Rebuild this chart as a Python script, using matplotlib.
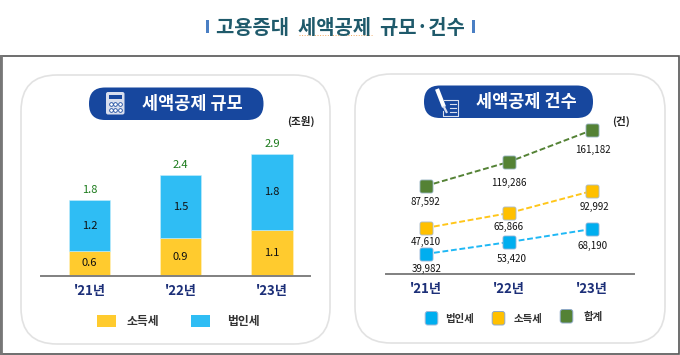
import matplotlib
matplotlib.use("Agg")
import matplotlib.pyplot as plt
from matplotlib.patches import FancyBboxPatch, Rectangle
from matplotlib.path import Path

plt.rcParams['font.family'] = ['Noto Sans CJK KR', 'DejaVu Sans']

years = ["'21년", "'22년", "'23년"]
income_tax = [0.6, 0.9, 1.1]
corp_tax = [1.2, 1.5, 1.8]
total_tax = [1.8, 2.4, 2.9]
corp_count = [39982, 53420, 68190]
income_count = [47610, 65866, 92992]
total_count = [87592, 119286, 161182]

YELLOW = '#ffcb2e'
SKY = '#2fbdf4'
NAVY = '#17479e'
TICK = '#1c2f78'
W, H = 680, 355

fig = plt.figure(figsize=(W / 100, H / 100), dpi=100, facecolor='white')
bg = fig.add_axes([0, 0, 1, 1], zorder=0)
bg.set_xlim(0, W)
bg.set_ylim(H, 0)
bg.axis('off')


def px_axes(x0, y0, x1, y1, z=2):
    a = fig.add_axes([x0 / W, 1 - y1 / H, (x1 - x0) / W, (y1 - y0) / H], zorder=z)
    a.patch.set_alpha(0)
    return a


def rbox(x0, y0, x1, y1, r, **kw):
    bg.add_patch(FancyBboxPatch((x0 + r, y0 + r), x1 - x0 - 2 * r, y1 - y0 - 2 * r,
                                boxstyle=f'round,pad={r},rounding_size={r}', **kw))


# Title
bg.text(340, 27, '고용증대  세액공제  규모·건수', ha='center', va='center', fontsize=14.3,
        color='#1f5a6b', fontweight='bold')
for x in (207.5, 473.5):
    bg.add_patch(Rectangle((x - 1.2, 20), 2.4, 13, color='#4a7fc4', lw=0))
bg.plot([299, 372], [35, 35], color='#f0a860', lw=0.7, ls=':')

# Frame and panels
bg.add_patch(Rectangle((1, 56), 678, 298, fc='white', ec='#555555', lw=1.2))
bg.plot([1, 1], [56, 354], color='#777777', lw=2)
rbox(21, 75, 330, 344, 36, fc='white', ec='#e2e2e2', lw=1.2)
rbox(355, 74, 665, 343, 36, fc='white', ec='#e2e2e2', lw=1.2)

# Pills
rbox(89, 87.5, 263.5, 120, 16, fc=NAVY, ec='none')
rbox(424, 85.5, 593, 118, 16, fc=NAVY, ec='none')
bg.text(192.5, 104, '세액공제 규모', ha='center', va='center', fontsize=12.6, color='white', fontweight='bold')
bg.text(526, 102, '세액공제 건수', ha='center', va='center', fontsize=12.6, color='white', fontweight='bold')

# Calculator icon
rbox(106, 92, 124.5, 114.5, 2, fc='#d9dfee', ec='none')
bg.add_patch(Rectangle((109, 95), 12.5, 4, fc=NAVY, ec='none'))
for cy in (104, 109.5):
    bg.scatter([111, 115.3, 119.6], [cy] * 3, s=7, fc='white', ec=NAVY, lw=0.6, zorder=3)

# Pen and note icon
bg.plot([444, 458, 458, 443, 443], [100, 100, 116, 116, 111], color='#d9dfee', lw=0.8)
for yy in (104, 108, 112):
    bg.plot([450, 456], [yy, yy], color='#d9dfee', lw=0.8)
bg.plot([437, 444], [89, 107], color='white', lw=3.0, solid_capstyle='butt', zorder=3)
bg.plot([444, 446.5], [107, 112], color='#d9dfee', lw=1.6, zorder=3)

# Stacked bars
ax = px_axes(41, 132, 310, 276)
pos = range(len(years))
ax.bar(pos, income_tax, width=0.45, color=YELLOW, edgecolor='#fff3c4', lw=0.4)
ax.bar(pos, corp_tax, bottom=income_tax, width=0.45, color=SKY, edgecolor='#c6eefc', lw=0.4)
ax.set_xlim(-0.531, 2.416)
ax.set_ylim(0, 3.43)
ax.set_yticks([])
ax.set_xticks(list(pos), years, fontsize=9.5, color=TICK, fontweight='bold')
ax.tick_params(axis='x', length=0, pad=6)
for s in ('top', 'left', 'right'):
    ax.spines[s].set_visible(False)
ax.spines['bottom'].set_color('#808080')
ax.spines['bottom'].set_linewidth(1.4)
for i in pos:
    ax.text(i, income_tax[i] / 2, f'{income_tax[i]:.1f}', ha='center', va='center', fontsize=8, color='#111111')
    ax.text(i, income_tax[i] + corp_tax[i] / 2, f'{corp_tax[i]:.1f}', ha='center', va='center', fontsize=8, color='#111111')
    ax.annotate(f'{total_tax[i]:.1f}', (i, income_tax[i] + corp_tax[i]), xytext=(0, 4),
                textcoords='offset points', ha='center', va='bottom', fontsize=8, color='#1a7a1a')
bg.text(300.5, 121, '(조원)', ha='center', va='center', fontsize=7.6, color='#222222', fontweight='bold')

# Rounded square marker
k = 0.3
rsq = Path([(-1 + k, -1), (1 - k, -1), (1, -1), (1, -1 + k), (1, 1 - k), (1, 1), (1 - k, 1),
            (-1 + k, 1), (-1, 1), (-1, 1 - k), (-1, -1 + k), (-1, -1), (-1 + k, -1), (-1 + k, -1)],
           [Path.MOVETO, Path.LINETO, Path.CURVE3, Path.CURVE3, Path.LINETO, Path.CURVE3, Path.CURVE3,
            Path.LINETO, Path.CURVE3, Path.CURVE3, Path.LINETO, Path.CURVE3, Path.CURVE3, Path.CLOSEPOLY])

# Line chart: each series was hand-placed in the source, so each has its own hidden scale
series = [
    (corp_count, '#00aeef', '#1fb8f5', (17400, 202500), '#9db8d8', [(1, -13), (3, -15), (1, -15)]),
    (income_count, '#ffc000', '#ffc61a', (-8830, 192400), '#a9bcd0', [(0, -12), (0, -12), (2, -13.5)]),
    (total_count, '#548235', '#548235', (-28200, 187600), '#9db8c8', [(0, -14), (0, -18), (1, -17.5)]),
]
for idx, (vals, mc, lc, lim, ec, offs) in enumerate(series):
    a = px_axes(386, 110, 634, 274, z=3 + idx)
    a.plot(list(pos), vals, color=lc, lw=1.4, ls=(0, (3, 1.4)), marker=rsq, ms=9.4,
           mfc=mc, mec=ec, mew=0.6, clip_on=False)
    a.set_xlim(-0.475, 2.505)
    a.set_ylim(*lim)
    a.set_yticks([])
    if idx == 0:
        a.set_xticks(list(pos), years, fontsize=9.5, color=TICK, fontweight='bold')
        a.tick_params(axis='x', length=0, pad=6)
        a.spines['bottom'].set_color('#808080')
        a.spines['bottom'].set_linewidth(1.4)
    else:
        a.set_xticks([])
        a.spines['bottom'].set_visible(False)
    for s in ('top', 'left', 'right'):
        a.spines[s].set_visible(False)
    for i, v in enumerate(vals):
        dx, dy = offs[i]
        a.annotate(f'{v:,}', (i, v), xytext=(dx * 0.72, dy * 0.72 * 1.15), textcoords='offset points',
                   ha='center', va='center', fontsize=7, color='#111111')
bg.text(621, 121, '(건)', ha='center', va='center', fontsize=7.6, color='#222222', fontweight='bold')

# Legends
bg.add_patch(Rectangle((97, 315), 19, 11.5, fc=YELLOW, ec='none'))
bg.add_patch(Rectangle((191, 315), 19, 11.5, fc=SKY, ec='none'))
bg.text(142.5, 321, '소득세', ha='center', va='center', fontsize=8.5, color='#333333', fontweight='bold')
bg.text(243, 321, '법인세', ha='center', va='center', fontsize=8.5, color='#333333', fontweight='bold')
for x, c, ec, tx, t, y in [(431.5, '#00aeef', '#9db8d8', 460, '법인세', 318),
                           (498.5, '#ffc000', '#8fa9c8', 528.5, '소득세', 318),
                           (566.5, '#548235', '#8fa9c8', 593, '합계', 316)]:
    rbox(x - 6.3, y - 6.5, x + 6.3, y + 7, 2.5, fc=c, ec=ec, lw=0.7)
    bg.text(tx, y + 0.5, t, ha='center', va='center', fontsize=7.5, color='#333333', fontweight='bold')

fig.savefig('out.png', dpi=100)
